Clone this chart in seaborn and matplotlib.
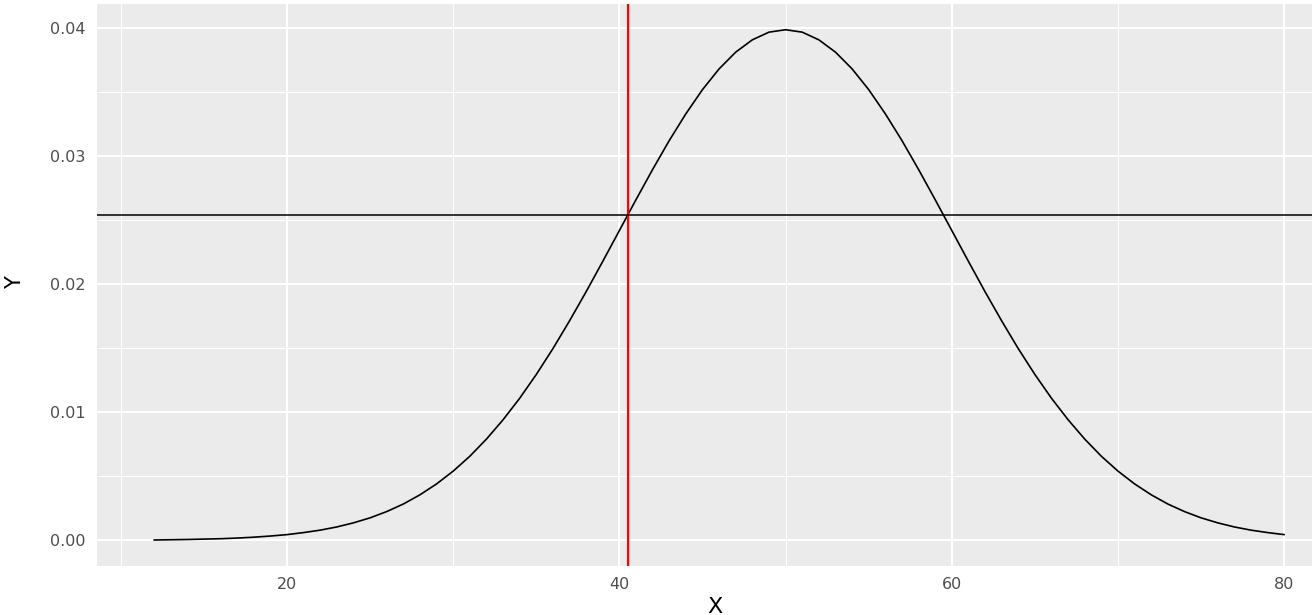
import matplotlib
matplotlib.use("Agg")
import matplotlib.pyplot as plt
import seaborn as sns
import pandas as pd
from matplotlib.ticker import MultipleLocator

# density curve, values
x_vals = list(range(12, 81))
y_vals = [0.00002, 0.00004, 0.00006, 0.00009, 0.00012, 0.00017, 0.00024, 0.00033,
          0.00044, 0.00060, 0.00079, 0.00104, 0.00136, 0.00175, 0.00224, 0.00283,
          0.00355, 0.00440, 0.00540, 0.00656, 0.00790, 0.00941, 0.01109, 0.01295,
          0.01497, 0.01714, 0.01942, 0.02179, 0.02420, 0.02661, 0.02897, 0.03123,
          0.03332, 0.03521, 0.03683, 0.03814, 0.03910, 0.03970, 0.03989, 0.03970,
          0.03910, 0.03814, 0.03683, 0.03521, 0.03332, 0.03123, 0.02897, 0.02661,
          0.02420, 0.02179, 0.01942, 0.01714, 0.01497, 0.01295, 0.01109, 0.00941,
          0.00790, 0.00656, 0.00540, 0.00440, 0.00355, 0.00283, 0.00224, 0.00175,
          0.00136, 0.00104, 0.00079, 0.00060, 0.00044]
vline_x = 40.5
hline_y = 0.0254
x_ticks = [20, 40, 60, 80]
y_ticks = [0.00, 0.01, 0.02, 0.03, 0.04]
y_tick_labels = ["0.00", "0.01", "0.02", "0.03", "0.04"]

df = pd.DataFrame({"X": x_vals, "Y": y_vals})

sns.set_theme(style="darkgrid", rc={"axes.facecolor": "#EBEBEB",
                                    "grid.color": "white"})
plt.rcParams["font.family"] = ["DejaVu Sans"]

fig = plt.figure(figsize=(13.12, 6.15), dpi=100)
ax = fig.add_axes([0.0739, 0.0797, 0.9261, 0.9138])

sns.lineplot(data=df, x="X", y="Y", color="black", linewidth=1.2, ax=ax)
ax.axvline(vline_x, color="red", linewidth=1.6)
ax.axhline(hline_y, color="black", linewidth=1.1)

ax.set_xlim(8.57, 81.67)
ax.set_ylim(-0.00201, 0.0419)
ax.set_xticks(x_ticks)
ax.set_yticks(y_ticks)
ax.set_yticklabels(y_tick_labels)
ax.xaxis.set_minor_locator(MultipleLocator(10))
ax.yaxis.set_minor_locator(MultipleLocator(0.005))
ax.grid(which="major", color="white", linewidth=1.5)
ax.grid(which="minor", color="white", linewidth=0.7)
ax.set_axisbelow(True)
for s in ax.spines.values():
    s.set_visible(False)

ax.tick_params(axis="both", which="major", length=4, width=1.1, color="#333333",
               labelsize=11.5, labelcolor="#4D4D4D", pad=4)
ax.tick_params(axis="both", which="minor", length=0)

ax.set_xlabel("X", fontsize=16, color="black")
ax.set_ylabel("Y", fontsize=15, color="black")
ax.xaxis.set_label_coords(0.509, -0.056)
ax.yaxis.set_label_coords(-0.059, 0.505)

fig.savefig("out.png", dpi=100)
